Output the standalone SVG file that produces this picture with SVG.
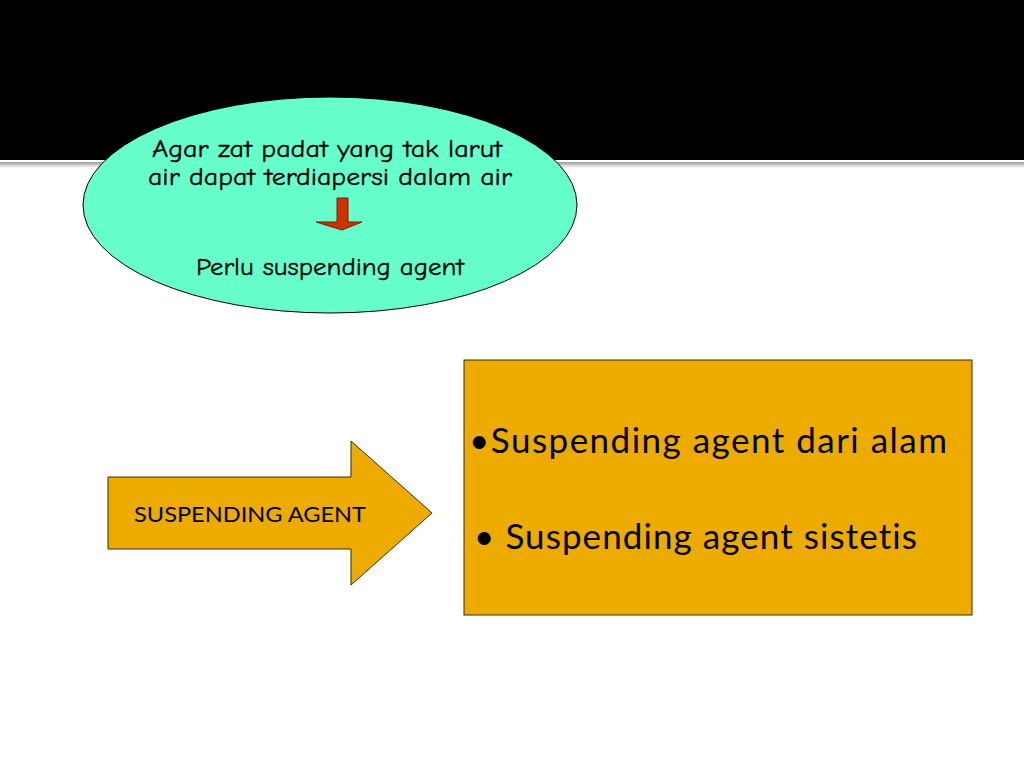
<svg xmlns="http://www.w3.org/2000/svg" width="1024" height="768" viewBox="0 0 1024 768">
<defs>
<style>
.comic{font-family:"Comic Neue","DejaVu Sans Condensed","DejaVu Sans",sans-serif;font-size:25px;font-weight:400;fill:#000;stroke:#000;stroke-width:0.35}
.cal{font-family:Lato,"Open Sans",sans-serif;fill:#000;font-variant-ligatures:none}
.shape{stroke:#3a2a00;stroke-width:1}
</style>
<linearGradient id="band" x1="0" y1="0" x2="0" y2="1">
<stop offset="0" stop-color="#9a9a9a"/>
<stop offset="1" stop-color="#ffffff"/>
</linearGradient>
</defs>
<rect width="1024" height="768" fill="#fff"/>
<rect x="0" y="0" width="1024" height="160" fill="#000"/>
<rect x="0" y="162" width="1024" height="6" fill="url(#band)"/>
<g id="ellipse-node">
<ellipse cx="330" cy="205" rx="247" ry="108" fill="#66FFCC" stroke="#000" stroke-width="1"/>
<text class="comic" x="327" y="157" text-anchor="middle" textLength="350" lengthAdjust="spacingAndGlyphs">Agar zat padat yang tak larut</text>
<text class="comic" x="330" y="185" text-anchor="middle" textLength="364" lengthAdjust="spacingAndGlyphs">air dapat terdiapersi dalam air</text>
<text class="comic" x="330" y="275" text-anchor="middle" textLength="268" lengthAdjust="spacingAndGlyphs">Perlu suspending agent</text>
</g>
<g id="connectors">
<polygon points="337,198 348,198 348,222 362,222 342,230 316,222 337,222" fill="#CC3300" stroke="#7a1e00" stroke-width="1"/>
</g>
<g id="arrow-node">
<polygon class="shape" points="108,477 351,477 351,441 432,513 351,585 351,549 108,549" fill="#EDAB00"/>
<text class="cal" x="134" y="522" font-size="21" textLength="232" lengthAdjust="spacingAndGlyphs">SUSPENDING AGENT</text>
</g>
<g id="box-node">
<rect class="shape" x="464" y="360" width="508" height="255" fill="#EDAB00"/>
<text class="cal" x="469" y="453" font-size="35" textLength="478">•Suspending agent dari alam</text>
<text class="cal" x="474" y="549" font-size="35" textLength="443">• Suspending agent sistetis</text>
</g>
</svg>
